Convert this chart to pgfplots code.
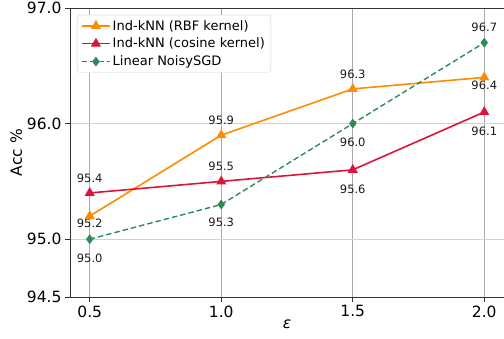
\documentclass[border=0pt]{standalone}
\usepackage{fontspec}
\setmainfont{DejaVu Sans}
\usepackage{pgfplots}
\pgfplotsset{compat=1.18}
\definecolor{rbf}{HTML}{FF8C00}
\definecolor{cosk}{HTML}{DC143C}
\definecolor{lin}{HTML}{2E8B57}
\begin{document}
\begin{tikzpicture}
\begin{axis}[
  scale only axis, width=434pt, height=289pt,
  xmin=0.425, xmax=2.075, ymin=94.5, ymax=97,
  xtick={0.5,1,1.5,2}, ytick={94.5,95,96,97},
  /pgf/number format/assume math mode=true,
  xticklabel style={/pgf/number format/.cd, fixed, fixed zerofill, precision=1},
  yticklabel style={/pgf/number format/.cd, fixed, fixed zerofill, precision=1},
  tick label style={font=\fontsize{15.5}{18}\selectfont},
  label style={font=\fontsize{15.5}{18}\selectfont},
  xlabel={\textit{ε}}, ylabel={Acc \%},
  xlabel style={yshift=4pt},
  ylabel style={yshift=-2pt},
  grid=major,
  x grid style={gray!65, line width=0.6pt},
  y grid style={gray!35, line width=0.8pt},
  tick align=outside, major tick length=5pt,
  xtick pos=bottom, ytick pos=left,
  tick style={black!80, line width=0.7pt},
  axis line style={black!80, line width=0.8pt},
  legend cell align=left,
  legend style={at={(axis description cs:0.016,0.976)}, anchor=north west,
    font=\fontsize{13}{15}\selectfont, draw=gray!35, rounded corners=2pt,
    inner xsep=4pt, inner ysep=3pt, row sep=2.5pt},
  legend image code/.code={\draw[mark repeat=2,mark phase=2] plot coordinates {(0pt,0pt) (14pt,0pt) (28pt,0pt)};},
]
\addplot[rbf, line width=1.6pt, mark=triangle*, mark size=4.3pt, mark options={solid}]
  coordinates {(0.5,95.2) (1.0,95.9) (1.5,96.3) (2.0,96.4)};
\addlegendentry{Ind-kNN (RBF kernel)}
\addplot[cosk, line width=1.6pt, mark=triangle*, mark size=4.3pt, mark options={solid}]
  coordinates {(0.5,95.4) (1.0,95.5) (1.5,95.6) (2.0,96.1)};
\addlegendentry{Ind-kNN (cosine kernel)}
\addplot[lin, line width=1.4pt, dashed, dash pattern=on 5.5pt off 3pt, mark=diamond*, mark size=3.8pt, mark options={solid}]
  coordinates {(0.5,95.0) (1.0,95.3) (1.5,96.0) (2.0,96.7)};
\addlegendentry{Linear NoisySGD}
\tikzset{lbl/.style={font=\fontsize{11.5}{13}\selectfont, text=black!90}}
% RBF
\node[lbl, yshift=-7.5pt] at (axis cs:0.5,95.2) {95.2};
\node[lbl, yshift=15pt] at (axis cs:1.0,95.9) {95.9};
\node[lbl, yshift=15pt] at (axis cs:1.5,96.3) {96.3};
\node[lbl, yshift=-7.5pt] at (axis cs:2.0,96.4) {96.4};
% cosine
\node[lbl, yshift=15pt] at (axis cs:0.5,95.4) {95.4};
\node[lbl, yshift=15pt] at (axis cs:1.0,95.5) {95.5};
\node[lbl, yshift=-19pt] at (axis cs:1.5,95.6) {95.6};
\node[lbl, yshift=-19pt] at (axis cs:2.0,96.1) {96.1};
% linear
\node[lbl, yshift=-19pt] at (axis cs:0.5,95.0) {95.0};
\node[lbl, yshift=-18pt] at (axis cs:1.0,95.3) {95.3};
\node[lbl, yshift=-19pt] at (axis cs:1.5,96.0) {96.0};
\node[lbl, yshift=15pt] at (axis cs:2.0,96.7) {96.7};
\end{axis}
\pgfresetboundingbox
\path[use as bounding box] (-70pt,-42pt) rectangle (434pt,297pt);
\end{tikzpicture}
\end{document}
